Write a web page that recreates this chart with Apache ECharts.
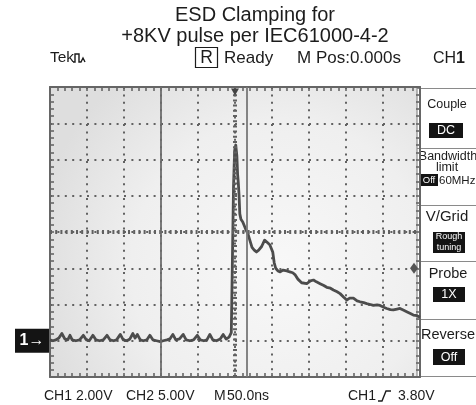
<!DOCTYPE html>
<html><head><meta charset="utf-8">
<script src="https://cdn.jsdelivr.net/npm/echarts@6/dist/echarts.min.js"></script>
<style>html,body{margin:0;padding:0;background:#fff}#c{width:476px;height:405px}</style>
</head><body><div id="c"></div>
<script>
// ---- data (time in ns, CH1 in volts) ----
const timeNs = [
  -250,-246,-242,-238,-234,-230,-226,-223,-220,-215,-210,-205,-201,-197,-192,-188,-183,-178,-173,-169,
  -164,-160,-155,-151,-146,-142,-138,-135,-132,-128,-124,-119,-115,-111,-106,-101,-97,-92,-88,-84,
  -80,-75,-70,-66,-61,-56,-51,-47,-42,-38,-34,-30,-25,-20,-16,-12,-8,-5,-3,
  -2.5,-2,-0.5,1,2.5,3.5,4.5,5.5,6.5,8,10.5,13,15,17.5,20,23,26,29,32,36,40,43,47,51,53,55,58,61,65,70,
  74,78,81,85,90,97,102,106,110,115,120,124,129,133,138,142,147,151,155,160,165,169,174,178,183,187,
  192,196,201,205,210,214,219,223,228,232,237,241,246,250
];
const ch1Volts = [
  0.05,0.0,0.05,0.15,0.4,0.1,0.05,0.3,0.05,0.0,0.05,0.3,0.05,0.0,0.3,0.05,0.0,0.05,0.3,0.05,
  0.0,0.05,0.35,0.05,0.0,0.1,0.4,0.15,0.35,0.05,0.0,0.05,0.3,0.05,0.0,-0.05,0.0,0.05,0.1,0.35,
  0.05,0.1,0.35,0.05,0.0,0.05,0.3,0.05,0.0,0.05,0.35,0.05,0.0,0.1,0.35,0.1,0.2,0.45,0.5,
  0.5,8.5,10.5,10.8,10.2,9.2,8.7,8.0,7.0,6.7,6.55,6.3,6.1,5.9,5.55,5.15,5.0,4.9,5.0,5.2,5.55,5.45,5.3,4.9,4.3,4.0,3.85,3.8,3.9,3.85,
  3.8,3.75,3.65,3.4,3.2,3.15,3.3,3.35,3.25,3.15,3.05,2.95,2.9,2.8,2.7,2.6,2.4,2.25,2.35,2.35,2.2,2.15,2.1,2.05,2.0,1.95,
  1.98,1.95,1.85,1.78,1.72,1.7,1.75,1.78,1.68,1.6,1.5,1.42,1.38,1.3
];
const cursorTimes = [-100, 15.5];
const groundLevel = 0;
const triggerLevelMark = 4.0;
const triggerTime = 0;
const xRange = [-250, 250, 50];   // min, max, interval (50 ns/div)
const yRange = [-2, 14, 2];        // min, max, interval (2 V/div)
const centerTime = 0;
const centerVolt = 6;

const FONT = '"Liberation Sans", Arial, Helvetica, sans-serif';
const INK = '#1c1c1c';
const GRID_C = '#666666';

const chart = echarts.init(document.getElementById('c'), null, {renderer: 'canvas'});

function axisBase(pos) {
  return {
    position: pos,
    axisLine: {show: true, onZero: false, lineStyle: {color: GRID_C, width: 2}},
    axisTick: {show: true, inside: true, length: 4, lineStyle: {color: GRID_C, width: 1.6}},
    minorTick: {show: true, splitNumber: 5, length: 4, lineStyle: {color: GRID_C, width: 1.6}},
    axisLabel: {show: false},
    splitLine: {show: false}
  };
}
const dotted = {color: '#626262', width: 2, type: [2, 5.4]};

const xMain = Object.assign(axisBase('bottom'), {type: 'value', min: xRange[0], max: xRange[1], interval: xRange[2],
  splitLine: {show: true, lineStyle: dotted}});
const xTop = Object.assign(axisBase('top'), {type: 'value', min: xRange[0], max: xRange[1], interval: xRange[2]});
const yMain = Object.assign(axisBase('left'), {type: 'value', min: yRange[0], max: yRange[1], interval: yRange[2],
  splitLine: {show: true, lineStyle: dotted},
  axisLabel: {show: true, margin: 1,
    formatter: v => v === groundLevel ? '{g|1\u2192}' : '',
    rich: {g: {backgroundColor: '#141414', color: '#fff', fontSize: 16, fontWeight: 'bold', fontFamily: FONT,
      width: 28, height: 24, lineHeight: 24, align: 'center', padding: [0, 3]}}}});
const yRight = Object.assign(axisBase('right'), {type: 'value', min: yRange[0], max: yRange[1], interval: yRange[2]});

const T = (text, x, y, size, extra) => ({type: 'text', x, y,
  style: Object.assign({text, fontSize: size, fontFamily: FONT, fill: INK, textAlign: 'left', textVerticalAlign: 'middle'}, extra || {})});
const box = (x, y, w, h) => ({type: 'rect', shape: {x, y, width: w, height: h}, style: {fill: '#141414'}});
const boxText = (text, x, y, size) => T(text, x, y, size, {fill: '#fff', textAlign: 'center'});

const graphics = [
  // title
  T('ESD Clamping for', 255, 15, 20, {textAlign: 'center'}),
  T('+8KV pulse per IEC61000-4-2', 255, 36, 20, {textAlign: 'center'}),
  // status row
  T('Tek', 50, 58, 15.5),
  {type: 'polyline', shape: {points: [[73,62],[75,62],[75,54],[79,54],[79,62],[81,62],[83,58],[85,62]]},
    style: {stroke: INK, lineWidth: 1.4, fill: null}},
  {type: 'rect', shape: {x: 195.5, y: 47.5, width: 22, height: 20}, style: {fill: null, stroke: INK, lineWidth: 1.2}},
  T('R', 206.5, 58, 17.5, {textAlign: 'center'}),
  T('Ready', 224, 58, 17),
  T('M Pos:0.000s', 297, 58, 17),
  {type: 'text', x: 433, y: 59, style: {text: '{a|CH}{b|1}', fontFamily: FONT, textVerticalAlign: 'middle',
    rich: {a: {fontSize: 16, fill: INK, fontFamily: FONT}, b: {fontSize: 16, fontWeight: 'bold', fill: INK, fontFamily: FONT}}}},
  // bottom row
  T('CH1 2.00V', 44, 396, 14),
  T('CH2 5.00V', 126, 396, 14),
  T('M', 214, 396, 14),
  T('50.0ns', 227, 396, 14),
  T('CH1', 348, 396, 14),
  {type: 'polyline', shape: {points: [[378,401],[382,401],[386,391],[391,391]]},
    style: {stroke: INK, lineWidth: 1.4, fill: null}},
  T('3.80V', 398, 396, 14),
  // right menu panel
  {type: 'rect', shape: {x: 417, y: 88.5, width: 62, height: 288}, style: {fill: '#ffffff', stroke: '#8a8a8a', lineWidth: 1.2}},
  {type: 'line', shape: {x1: 417, y1: 148.5, x2: 476, y2: 148.5}, style: {stroke: '#8a8a8a', lineWidth: 1.2}},
  {type: 'line', shape: {x1: 417, y1: 205.5, x2: 476, y2: 205.5}, style: {stroke: '#8a8a8a', lineWidth: 1.2}},
  {type: 'line', shape: {x1: 417, y1: 261.5, x2: 476, y2: 261.5}, style: {stroke: '#8a8a8a', lineWidth: 1.2}},
  {type: 'line', shape: {x1: 417, y1: 319.5, x2: 476, y2: 319.5}, style: {stroke: '#8a8a8a', lineWidth: 1.2}},
  T('Couple', 447, 105, 12.5, {textAlign: 'center'}),
  box(429, 123, 34, 15), boxText('DC', 446, 131, 12.5),
  T('Bandwidth', 448, 157, 12.5, {textAlign: 'center'}),
  T('limit', 447, 168, 12.5, {textAlign: 'center'}),
  box(420, 174, 18, 12), boxText('Off', 429, 180.5, 9.5),
  T('60MHz', 439, 180.5, 11.5),
  T('V/Grid', 447, 217, 15, {textAlign: 'center'}),
  box(433, 232, 32, 21), boxText('Rough', 449, 237, 9), boxText('tuning', 449, 247.5, 9),
  T('Probe', 448, 274, 14.5, {textAlign: 'center'}),
  box(433, 287, 32, 15), boxText('1X', 449, 295, 12.5),
  T('Reverse', 448, 335, 14.5, {textAlign: 'center'}),
  box(433, 349, 32, 16), boxText('Off', 449, 357.5, 12.5)
];

const option = {
  animation: false,
  backgroundColor: '#ffffff',
  grid: {left: 50, right: 56, top: 87, bottom: 28, show: true, borderWidth: 0,
    backgroundColor: {type: 'radial', x: 0.62, y: 0.62, r: 0.85,
      colorStops: [{offset: 0, color: '#f8f8f8'}, {offset: 0.6, color: '#efefef'}, {offset: 1, color: '#dedede'}]}},
  xAxis: [xMain, xTop],
  yAxis: [yMain, yRight],
  series: [
    {
      type: 'line', name: 'graticule', data: [], silent: true, z: 1,
      markLine: {
        silent: true, symbol: ['none', 'none'], label: {show: false}, animation: false,
        data: [
          {xAxis: centerTime, lineStyle: {color: '#606060', width: 4, type: [2, 3.2]}},
          {yAxis: centerVolt, lineStyle: {color: '#606060', width: 4, type: [2, 3.2]}},
          {xAxis: cursorTimes[0], lineStyle: {color: '#6c6c6c', width: 1.8, type: 'solid'}},
          {xAxis: cursorTimes[1], lineStyle: {color: '#787878', width: 1.8, type: 'solid'}}
        ]
      },
      markPoint: {
        silent: true, label: {show: false}, animation: false,
        data: [
          {coord: [triggerTime, yRange[1]], symbol: 'triangle', symbolRotate: 180, symbolSize: [8, 7],
            symbolOffset: [0, 5], itemStyle: {color: '#444'}},
          {coord: [xRange[1], triggerLevelMark], symbol: 'diamond', symbolSize: [8, 11],
            symbolOffset: [-6, 0], itemStyle: {color: '#555'}}
        ]
      }
    },
    {
      type: 'line', name: 'CH1', z: 3,
      data: timeNs.map((t, i) => [t, ch1Volts[i]]),
      showSymbol: false, symbol: 'none', smooth: false,
      lineStyle: {color: '#4c4c4c', width: 2.8, join: 'round'},
      clip: true
    }
  ],
  graphic: graphics
};
chart.setOption(option);
</script>
</body></html>
